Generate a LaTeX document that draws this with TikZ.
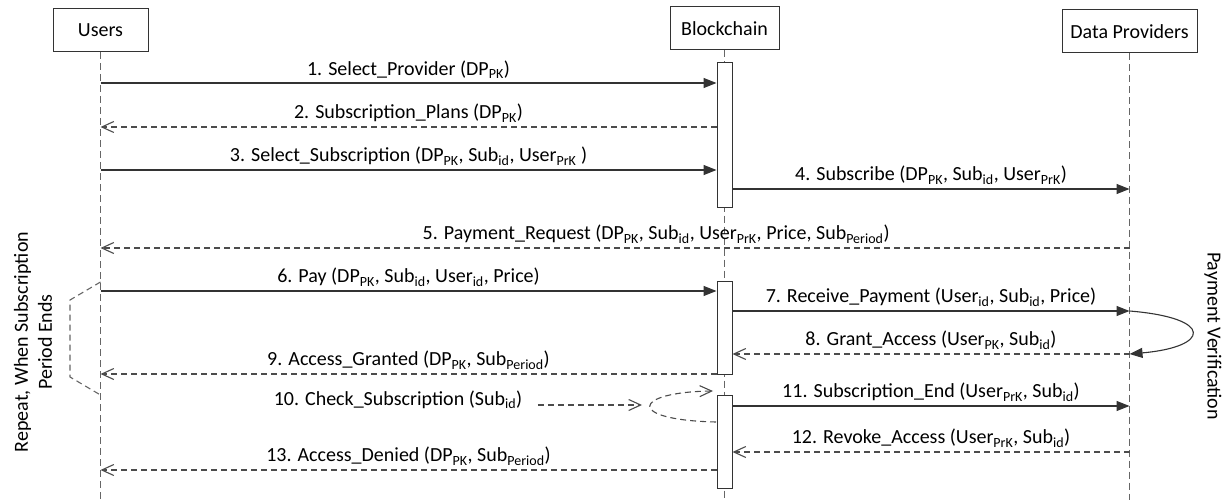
\documentclass[tikz,border=0pt]{standalone}
\usepackage{fontspec}
\setmainfont{Carlito}
\usetikzlibrary{arrows.meta}

\begin{document}
\begin{tikzpicture}[x=1pt, y=-1pt,
    every node/.style={font=\fontsize{20}{24}\selectfont},
    actor/.style={draw=black!80, line width=1pt, minimum height=43pt, inner sep=0pt},
    life/.style={draw=black!60, line width=1.1pt, dash pattern=on 7pt off 4pt},
    bar/.style={draw=black!80, fill=white, line width=1pt, minimum width=15pt, inner sep=0pt},
    msg/.style={draw=black!80, line width=1.1pt, -{Triangle[length=13pt,width=10pt]}},
    ret/.style={draw=black!70, line width=1.1pt, dash pattern=on 6pt off 4pt, -{Straight Barb[length=12pt,width=11pt]}},
    lbl/.style={above=1pt}]
    \useasboundingbox (0,0) rectangle (1226,500);

    % participants and lifelines
    \node[actor, minimum width=95pt] (users) at (100.5,30) {Users};
    \node[actor, minimum width=109pt] (chain) at (724.5,28.5) {Blockchain};
    \node[actor, minimum width=135pt] (provs) at (1129.5,31.5) {Data Providers};
    \coordinate (usersend) at (100.5,500);
    \coordinate (chainend) at (724.5,500);
    \coordinate (provsend) at (1129.5,500);
    \draw[life] (users) -- (usersend);
    \draw[life] (chain) -- (chainend);
    \draw[life] (provs) -- (provsend);

    % activation bars
    \node[bar, minimum height=145pt, anchor=north] (act1) at (724.5,62) {};
    \node[bar, minimum height=93pt, anchor=north] (act2) at (724.5,281) {};
    \node[bar, minimum height=93pt, anchor=north] (act3) at (724.5,395) {};

    % message points on the lifelines
    \foreach \n/\y in {1/83,2/127,3/170,5/248,6/291,9/374,13/470}
      \coordinate (u\n) at (100.5,\y);
    \foreach \n/\y in {4/189,5/248,7/311,8/354,11/406,12/452}
      \coordinate (p\n) at (1129.5,\y);

    \draw[msg] (u1) -- node[lbl] {1. Select\_Provider (DP\textsubscript{PK})} (act1.west |- u1);
    \draw[ret] (act1.west |- u2) -- node[lbl] {2. Subscription\_Plans (DP\textsubscript{PK})} (u2);
    \draw[msg] (u3) -- node[lbl] {3. Select\_Subscription (DP\textsubscript{PK}, Sub\textsubscript{id}, User\textsubscript{PrK} )} (act1.west |- u3);
    \draw[msg] (act1.east |- p4) -- node[lbl] {4. Subscribe (DP\textsubscript{PK}, Sub\textsubscript{id}, User\textsubscript{PrK})} (p4);
    \draw[ret] (p5) -- node[lbl, pos=.46] {5. Payment\_Request (DP\textsubscript{PK}, Sub\textsubscript{id}, User\textsubscript{PrK}, Price, Sub\textsubscript{Period})} (u5);
    \draw[msg] (u6) -- node[lbl] {6. Pay (DP\textsubscript{PK}, Sub\textsubscript{id}, User\textsubscript{id}, Price)} (act2.west |- u6);
    \draw[msg] (act2.east |- p7) -- node[lbl] {7. Receive\_Payment (User\textsubscript{id}, Sub\textsubscript{id}, Price)} (p7);
    \draw[ret] (p8) -- node[lbl] {8. Grant\_Access (User\textsubscript{PK}, Sub\textsubscript{id})} (act2.east |- p8);
    \draw[msg] (p7) .. controls (1215,318) and (1210,347) .. (p8);
    \draw[ret] (act2.west |- u9) -- node[lbl] {9. Access\_Granted (DP\textsubscript{PK}, Sub\textsubscript{Period})} (u9);

    % subscription check
    \node (check) at (398,400) {10. Check\_Subscription (Sub\textsubscript{id})};
    \coordinate (c10) at (642,405);
    \coordinate (loopin) at (716,422);
    \coordinate (loopout) at (713,391);
    \draw[ret] ([xshift=12pt]check.east |- c10) -- (c10);
    \draw[ret] (loopin) .. controls (625,420) and (632,392) .. (loopout);

    \draw[msg] (act3.east |- p11) -- node[lbl] {11. Subscription\_End (User\textsubscript{PrK}, Sub\textsubscript{id})} (p11);
    \draw[ret] (p12) -- node[lbl] {12. Revoke\_Access (User\textsubscript{PrK}, Sub\textsubscript{id})} (act3.east |- p12);
    \draw[ret] (act3.west |- u13) -- node[lbl] {13. Access\_Denied (DP\textsubscript{PK}, Sub\textsubscript{Period})} (u13);

    % repeat bracket and side notes
    \coordinate (rep1) at (100.5,282);
    \coordinate (rep2) at (100.5,395);
    \draw[draw=black!60, line width=1.1pt, dash pattern=on 6pt off 4pt] (rep1) -- (70,300) -- (70,377) -- (rep2);
    \node[rotate=90, align=center] (repeat) at (33,342) {Repeat, When Subscription\\Period Ends};
    \node[rotate=-90] (verify) at (1213,336) {Payment Verification};
\end{tikzpicture}
\end{document}
